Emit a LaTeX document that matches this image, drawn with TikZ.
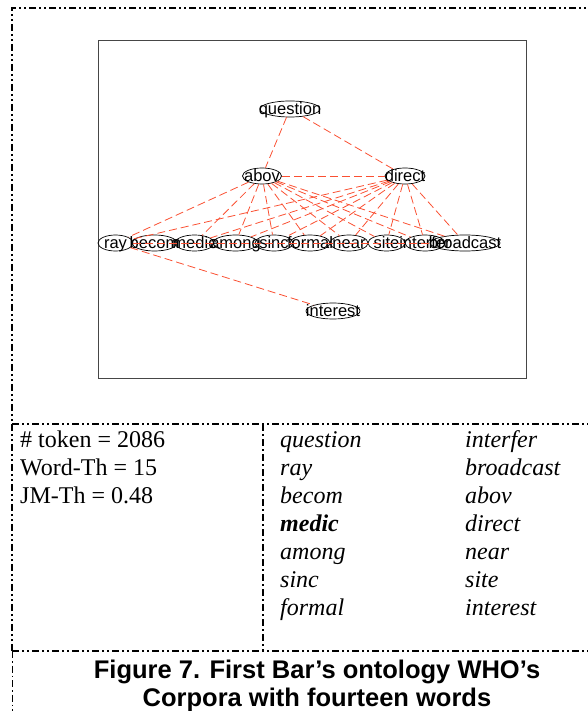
\documentclass[tikz,border=0pt]{standalone}
\usepackage{fontspec}
\setmainfont{Liberation Serif}
\newfontfamily\labelfont{Liberation Sans}
\usetikzlibrary{shapes.geometric}

\definecolor{edgered}{RGB}{250,80,50}
\definecolor{framegray}{RGB}{70,70,70}

\tikzset{
  word/.style={ellipse, draw=black, line width=0.7pt, inner sep=0pt, minimum height=16pt},
  wordtext/.style={font=\labelfont\fontsize{16.5}{16.5}\selectfont, text=black, inner sep=0pt, anchor=base},
  link/.style={draw=edgered, line width=0.8pt, dash pattern=on 8pt off 4pt},
  border/.style={line width=1.7pt, dash pattern=on 7pt off 3pt on 2pt off 3pt on 2pt off 3pt},
  divider/.style={line width=1.7pt, dash pattern=on 7pt off 3pt on 2pt off 3pt},
  thinborder/.style={line width=0.8pt, dash pattern=on 7pt off 3pt on 1.5pt off 3pt},
  plotframe/.style={draw=framegray, line width=1pt},
  cell/.style={anchor=base west, inner sep=0pt, font=\fontsize{24}{28}\selectfont},
  term/.style={cell, font=\fontsize{24}{28}\selectfont\itshape},
  caption/.style={anchor=base, inner sep=0pt, font=\labelfont\bfseries\fontsize{25.5}{28}\selectfont}
}

% an ellipse of fixed size with its word laid over it
\newcommand\wordnode[4]{%
  \node[word, minimum width=#4] (#1) at (#2) {};
  \node[wordtext] (#1-label) at ([yshift=-5.8pt]#1.center) {#3};}

\begin{document}
\begin{tikzpicture}[x=1pt, y=-1pt]
\useasboundingbox (0,0) rectangle (588,711);

% outer frame and table rules
\coordinate (tl) at (12,8);
\coordinate (tr) at (588,8);
\coordinate (ml) at (12,424);
\coordinate (mr) at (588,424);
\coordinate (bl) at (12,651);
\coordinate (br) at (588,651);
\coordinate (foot) at (12,711);
\coordinate (dtop) at (263,424);
\coordinate (dbot) at (263,651);
\draw[border] (bl) -- (tl) -- (tr);
\draw[border] (ml) -- (mr);
\draw[border] (bl) -- (br);
\draw[divider] (dtop) -- (dbot);
\draw[thinborder] (bl) -- (foot);

% plot area
\coordinate (pa) at (98,41);
\coordinate (pb) at (526,378);
\draw[plotframe] (pa) rectangle (pb);

% word nodes
\wordnode{question}{290,109}{question}{60pt}
\wordnode{abov}{262,176}{abov}{39pt}
\wordnode{direct}{405,176}{direct}{40pt}
\wordnode{ray}{115.5,243}{ray}{35pt}
\wordnode{becom}{154.5,243}{becom}{45pt}
\wordnode{medic}{194.5,243}{medic}{39pt}
\wordnode{among}{235.5,243}{among}{45pt}
\wordnode{sinc}{274,243}{sinc}{38pt}
\wordnode{formal}{310,243}{formal}{40pt}
\wordnode{near}{349,243}{near}{38pt}
\wordnode{site}{386.5,243}{site}{37pt}
\wordnode{interfer}{425,243}{interfer}{40pt}
\wordnode{broadcast}{465,243}{broadcast}{70pt}
\wordnode{interest}{333,311}{interest}{54pt}

% links
\draw[link] (question) -- (abov);
\draw[link] (question) -- (direct);
\draw[link] (abov) -- (direct);
\foreach \w in {ray,medic,among,sinc,formal,near,site,interfer,broadcast}{
  \draw[link] (abov) -- (\w);
  \draw[link] (direct) -- (\w);
}
\draw[link] (ray) -- (interest);
\draw[link] (ray) -- (broadcast);

% statistics
\node[cell] (tok) at (20,447) {\# token = 2086};
\node[cell] (wth) at (20,475) {Word-Th = 15};
\node[cell] (jmth) at (20,503) {JM-Th = 0.48};

% word list
\node[term] (l1) at (280,447) {question};
\node[term] (l2) at (280,475) {ray};
\node[term] (l3) at (280,503) {becom};
\node[term, font=\fontsize{24}{28}\selectfont\bfseries\itshape] (l4) at (280,531) {medic};
\node[term] (l5) at (280,559) {among};
\node[term] (l6) at (280,587) {sinc};
\node[term] (l7) at (280,615) {formal};
\node[term] (r1) at (465,447) {interfer};
\node[term] (r2) at (465,475) {broadcast};
\node[term] (r3) at (465,503) {abov};
\node[term] (r4) at (465,531) {direct};
\node[term] (r5) at (465,559) {near};
\node[term] (r6) at (465,587) {site};
\node[term] (r7) at (465,615) {interest};

% caption
\node[caption] (cap1) at (317,678) {Figure 7. First Bar’s ontology WHO’s};
\node[caption] (cap2) at (317,706) {Corpora with fourteen words};
\end{tikzpicture}
\end{document}
